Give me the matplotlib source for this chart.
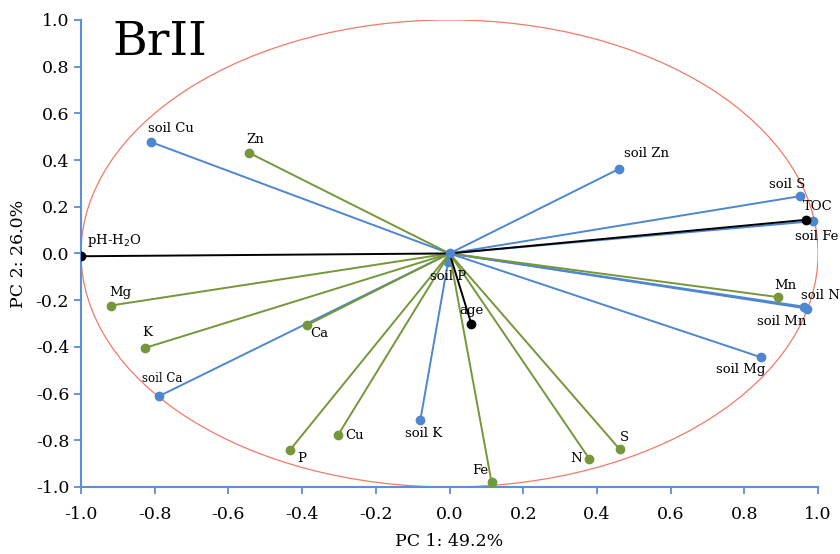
import matplotlib
matplotlib.use('Agg')
import matplotlib.pyplot as plt
from matplotlib.patches import Ellipse

# loadings
soil_names = ["soil Cu", "soil Zn", "soil S", "soil Fe", "soil N", "soil Mn",
              "soil Mg", "soil K", "soil Ca", "soil P"]
soil_pc1 = [-0.81, 0.461, 0.950, 0.985, 0.970, 0.962, 0.846, -0.079, -0.788, -0.005]
soil_pc2 = [0.477, 0.363, 0.245, 0.138, -0.236, -0.228, -0.445, -0.712, -0.611, -0.035]

plant_names = ["Zn", "Mn", "Mg", "K", "Ca", "P", "Cu", "Fe", "N", "S"]
plant_pc1 = [-0.544, 0.892, -0.919, -0.825, -0.388, -0.432, -0.303, 0.114, 0.379, 0.462]
plant_pc2 = [0.431, -0.187, -0.223, -0.404, -0.308, -0.840, -0.779, -0.979, -0.879, -0.839]

other_names = ["pH-H$_2$O", "TOC", "age"]
other_pc1 = [-1.0, 0.967, 0.059]
other_pc2 = [-0.012, 0.144, -0.301]

# label offsets in points (dx, dy, ha, va)
offsets = {
    "soil Cu": (-2, 5, "left", "bottom"), "soil Zn": (3, 6, "left", "bottom"),
    "soil S": (4, 4, "right", "bottom"), "soil Fe": (3, -6, "center", "top"),
    "soil N": (-4, 5, "left", "bottom"), "soil Mn": (2, -6, "right", "top"),
    "soil Mg": (3, -4, "right", "top"), "soil K": (2, -5, "center", "top"),
    "soil Ca": (-12, 8, "left", "bottom"), "soil P": (0, -6, "center", "top"),
    "Zn": (-2, 5, "left", "bottom"), "Mn": (-3, 4, "left", "bottom"),
    "Mg": (-1, 5, "left", "bottom"), "K": (-2, 6, "left", "bottom"),
    "Ca": (3, -1, "left", "top"), "P": (5, -2, "left", "top"),
    "Cu": (5, 0, "left", "center"), "Fe": (-2, 4, "right", "bottom"),
    "N": (-5, 0, "right", "center"), "S": (0, 4, "left", "bottom"),
    "pH-H$_2$O": (4, 5, "left", "bottom"), "TOC": (-2, 5, "left", "bottom"),
    "age": (0, 5, "center", "bottom"),
}

blue = "#4f86d0"
green = "#76963a"
black = "#000000"
axis_blue = "#5b8fd8"

plt.rcParams['font.family'] = ['DejaVu Serif']

fig = plt.figure(figsize=(8.4, 5.54), dpi=100)
ax = fig.add_axes([0.0964, 0.121, 0.8775, 0.843])

ax.add_patch(Ellipse((0, 0), 2.0, 2.0, fill=False, edgecolor="#f27a68",
                     linewidth=0.9, zorder=1))

for names, xs, ys, col in [(soil_names, soil_pc1, soil_pc2, blue),
                           (plant_names, plant_pc1, plant_pc2, green),
                           (other_names, other_pc1, other_pc2, black)]:
    for n, x, y in zip(names, xs, ys):
        ax.plot([0, x], [0, y], color=col, lw=1.4, marker="o", ms=6,
                markevery=[1], zorder=3)
        dx, dy, ha, va = offsets[n]
        fs = 8.5 if n == "soil Ca" else 9.5
        ax.annotate(n, (x, y), xytext=(dx, dy), textcoords="offset points",
                    ha=ha, va=va, fontsize=fs, zorder=4, annotation_clip=False)

ax.plot([0], [0], "o", color=blue, ms=6, zorder=5)

ax.set_xlim(-1, 1)
ax.set_ylim(-1, 1)
ticks = [-1.0, -0.8, -0.6, -0.4, -0.2, 0.0, 0.2, 0.4, 0.6, 0.8, 1.0]
ax.set_xticks(ticks)
ax.set_yticks(ticks)
ax.set_xticklabels([f"{t:.1f}" for t in ticks])
ax.set_yticklabels([f"{t:.1f}" for t in ticks])
for s in ["top", "right"]:
    ax.spines[s].set_visible(False)
for s in ["left", "bottom"]:
    ax.spines[s].set_color(axis_blue)
    ax.spines[s].set_linewidth(1.5)
ax.tick_params(colors=axis_blue, labelcolor="black", labelsize=12.5,
               direction="out", length=5, width=1.3)
ax.tick_params(axis="x", pad=9)
ax.set_xlabel("PC 1: 49.2%", fontsize=12.5, labelpad=7)
ax.set_ylabel("PC 2: 26.0%", fontsize=12.5, labelpad=6)

ax.text(0.042, 0.953, "BrII", transform=ax.transAxes, fontsize=34,
        ha="left", va="center")

fig.savefig("out.png", dpi=100)
